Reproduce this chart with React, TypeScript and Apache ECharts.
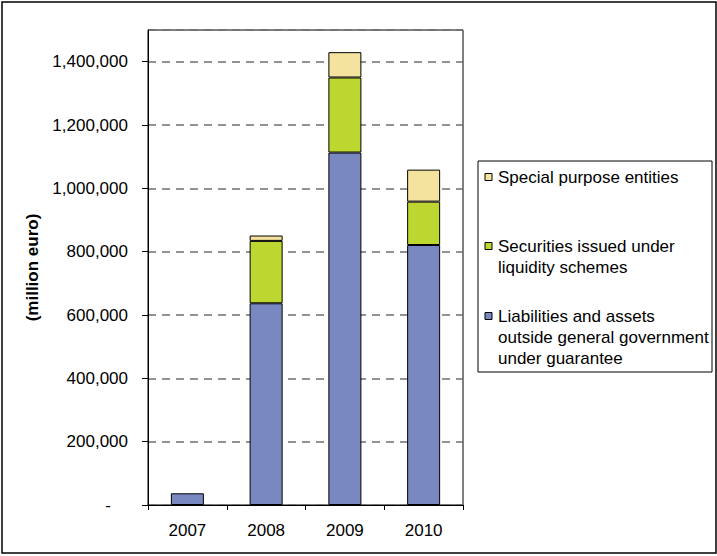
import React, { useEffect, useRef } from "react";
import * as echarts from "echarts";

const categories = ["2007", "2008", "2009", "2010"];
const seriesNames = [
  "Liabilities and assets outside general government under guarantee",
  "Securities issued under liquidity schemes",
  "Special purpose entities",
];
const liabilities = [37000, 637000, 1113000, 821000];
const securities = [null, 197000, 237000, 137000];
const specialPurpose = [null, 17000, 80000, 101000];
const colors = ["#7A88C2", "#BED630", "#F4E39E"];
const legendLabels = [
  ["Special purpose entities"],
  ["Securities issued under", "liquidity schemes"],
  ["Liabilities and assets", "outside general government", "under guarantee"],
];
const legendColors = [colors[2], colors[1], colors[0]];
const yTitle = "(million euro)";

const FONT = "'Liberation Sans', Arial, Helvetica, sans-serif";

export default function App() {
  const ref = useRef<HTMLDivElement>(null);
  useEffect(() => {
    document.body.style.margin = "0";
    const chart = echarts.init(ref.current!, null, { renderer: "svg" });
    const values = [liabilities, securities, specialPurpose];

    const legendTop = 161;
    const lineH = 21;
    const firstLines = [177, 246, 316];
    const legendGraphics: any[] = [
      {
        type: "rect",
        shape: { x: 478, y: legendTop, width: 234, height: 211 },
        style: { fill: "#fff", stroke: "#000", lineWidth: 1 },
      },
    ];
    legendLabels.forEach((lines, i) => {
      const cy = firstLines[i];
      legendGraphics.push({
        type: "rect",
        shape: { x: 485, y: cy - 3.5, width: 7, height: 7 },
        style: { fill: legendColors[i], stroke: "#000", lineWidth: 1 },
      });
      legendGraphics.push({
        type: "text",
        x: 498,
        y: cy - lineH / 2,
        style: {
          text: lines.join("\n"),
          font: `17px ${FONT}`,
          fill: "#000",
          lineHeight: lineH,
          verticalAlign: "top",
          align: "left",
        },
      });
    });

    chart.setOption({
      animation: false,
      textStyle: { fontFamily: FONT },
      grid: {
        left: 148,
        right: 254,
        top: 30,
        bottom: 51,
        show: true,
        borderColor: "#000",
        borderWidth: 1,
        containLabel: false,
      },
      xAxis: {
        type: "category",
        data: categories,
        axisLine: { lineStyle: { color: "#000", width: 1 } },
        axisTick: { show: true, length: 5, lineStyle: { color: "#000" } },
        axisLabel: { color: "#000", fontSize: 17, margin: 17, fontFamily: FONT },
      },
      yAxis: {
        type: "value",
        min: 0,
        max: 1500000,
        interval: 200000,
        name: yTitle,
        nameLocation: "middle",
        nameGap: 107,
        nameTextStyle: { fontSize: 17, fontWeight: "bold", color: "#000", fontFamily: FONT },
        axisLine: { show: true, lineStyle: { color: "#000", width: 1 } },
        axisTick: { show: true, length: 6, lineStyle: { color: "#000" } },
        axisLabel: {
          color: "#000",
          fontSize: 17,
          margin: 20,
          fontFamily: FONT,
          showMaxLabel: false,
          formatter: (v: number) =>
            v === 0 ? "{z|-}" : v.toLocaleString("en-US"),
          rich: { z: { fontSize: 17, color: "#000", padding: [0, 17, 0, 0], fontFamily: FONT } },
        },
        splitLine: {
          show: true,
          lineStyle: { color: "#6f6f6f", width: 1.5, type: [8, 6] },
        },
      },
      series: values.map((d, i) => ({
        name: seriesNames[i],
        type: "bar",
        stack: "total",
        data: d,
        barWidth: 33,
        itemStyle: { color: colors[i], borderColor: "#000", borderWidth: 1 },
      })),
      graphic: [
        {
          type: "rect",
          shape: { x: 2, y: 2, width: 714, height: 551 },
          style: { fill: "none", stroke: "#000", lineWidth: 1.5 },
          silent: true,
        },
        ...legendGraphics,
      ],
    });
    return () => chart.dispose();
  }, []);
  return <div ref={ref} style={{ width: 717, height: 556 }} />;
}
